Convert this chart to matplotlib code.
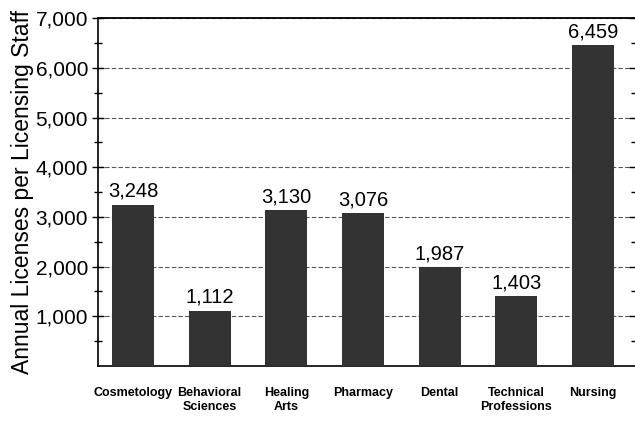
import numpy as np
import matplotlib.pyplot as plt

categories = ['Cosmetology', 'Behavioral\nSciences', 'Healing\nArts', 'Pharmacy',
              'Dental', 'Technical\nProfessions', 'Nursing']
licenses = [3248, 1112, 3130, 3076, 1987, 1403, 6459]
y_ticks = [1000, 2000, 3000, 4000, 5000, 6000, 7000]

plt.rcParams['font.family'] = ['Liberation Sans', 'DejaVu Sans']

fig = plt.figure(figsize=(6.35, 4.23), dpi=100)
ax = fig.add_axes([0.154, 0.135, 0.846, 0.822])

x = np.arange(len(categories))
bars = ax.bar(x, licenses, width=0.55, color='#333333', zorder=3)

for b, v in zip(bars, licenses):
    ax.text(b.get_x() + b.get_width() / 2, v + 80, f'{v:,}',
            ha='center', va='bottom', fontsize=14.5, zorder=4)

ax.set_ylim(0, 7000)
ax.set_xlim(-0.46, 6.55)
ax.set_yticks(y_ticks)
ax.set_yticklabels([f'{t:,}' for t in y_ticks], fontsize=15)
ax.set_yticks(np.arange(500, 7000, 1000), minor=True)
ax.tick_params(axis='y', which='both', direction='inout', length=8, width=1,
               right=True, pad=3)
ax.tick_params(axis='y', which='minor', length=6)

ax.set_xticks(x)
ax.set_xticklabels(categories, fontsize=9, fontweight='bold', linespacing=1.25)
ax.tick_params(axis='x', length=0, pad=15)

ax.yaxis.grid(True, linestyle=(0, (4, 2)), linewidth=0.8, color='#555555', zorder=0)
ax.set_ylabel('Annual Licenses per Licensing Staff', fontsize=16.5, labelpad=1)

ax.spines['top'].set_linewidth(1.3)
ax.spines['right'].set_visible(False)
ax.spines['left'].set_linewidth(1.2)
ax.spines['bottom'].set_linewidth(1.2)

fig.savefig('out.png', dpi=100)
